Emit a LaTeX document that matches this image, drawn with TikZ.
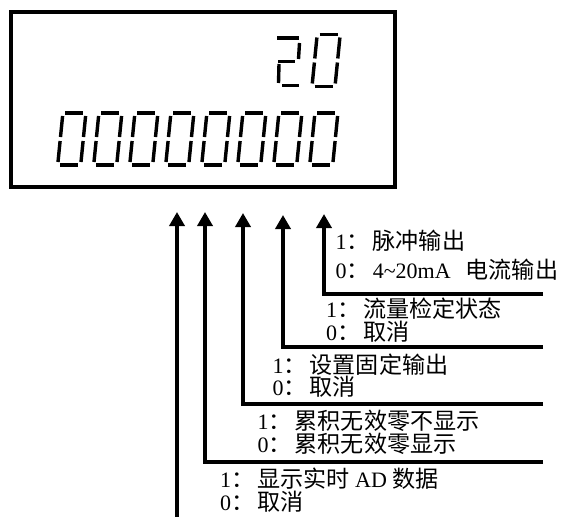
\documentclass[tikz,border=0pt]{standalone}
\usepackage{fontspec}
\setmainfont{Liberation Serif}
\newfontfamily\cjk[Scale=1.05]{Noto Sans CJK SC}
\usetikzlibrary{arrows.meta}
\tikzset{
  seg/.style={line width=3.4pt, line cap=butt},
  conn/.style={line width=4pt, line join=miter, -{Triangle[length=14pt,width=15pt]}},
  lbl/.style={inner sep=0pt, anchor=base west, font=\fontsize{22}{25}\selectfont},
}
\newcommand\fwcolon{{\cjk ：}\hspace{3pt}}
\newcommand\zerodigit{%
  \draw[seg] (2.5,0)--(20.5,0);
  \draw[seg] (2.5,52)--(20.5,52);
  \draw[seg] (0,3)--(0,24);
  \draw[seg] (0,28)--(0,49);
  \draw[seg] (23,3)--(23,24);
  \draw[seg] (23,28)--(23,49);}
\begin{document}
\begin{tikzpicture}[x=1pt,y=-1pt]
\useasboundingbox (0,0) rectangle (561,516);
% display
\node[draw, line width=4pt, minimum width=384.5pt, minimum height=175pt,
      inner sep=0pt, outer sep=0pt, anchor=north west] (display) at (10.5,12) {};
% bottom row of digits
\foreach \i in {0,...,7}{
  \begin{scope}[shift={({57.7pt+36pt*\i},-165pt)}, xslant=0.1, y=1pt]
    \zerodigit
  \end{scope}
}
% top row "20"
\draw[seg] (277,38)--(299,38);
\draw[seg] (299.5,43)--(298.5,59);
\draw[seg] (278,61.5)--(295,61.5);
\draw[seg] (279,64)--(278.5,83);
\draw[seg] (282,85.5)--(299,85.5);
\begin{scope}[shift={(312pt,-86.5pt)}, xslant=0.1, y=1pt]
  \zerodigit
\end{scope}
% connector coordinates
\coordinate (t1) at (177,212);
\coordinate (t2) at (205,212);
\coordinate (t3) at (243,213);
\coordinate (t4) at (283,215);
\coordinate (t5) at (324,214);
\coordinate (b1) at (177,518);
\coordinate (e2) at (543,462);
\coordinate (e3) at (543,404);
\coordinate (e4) at (543,346.5);
\coordinate (e5) at (543,294);
\draw[conn] (e5) -| (t5);
\draw[conn] (e4) -| (t4);
\draw[conn] (e3) -| (t3);
\draw[conn] (e2) -| (t2);
\draw[conn] (b1) -- (t1);
% labels
\node[lbl] (l5a) at (335.5,249) {1\fwcolon{\cjk 脉冲输出}};
\node[lbl] (l5b) at (335.5,278) {0\fwcolon 4\textasciitilde 20mA\hspace{15pt}{\cjk 电流输出}};
\node[lbl] (l4a) at (326,317) {1\fwcolon{\cjk 流量检定状态}};
\node[lbl] (l4b) at (326,340) {0\fwcolon{\cjk 取消}};
\node[lbl] (l3a) at (272.5,373) {1\fwcolon{\cjk 设置固定输出}};
\node[lbl] (l3b) at (272.5,395) {0\fwcolon{\cjk 取消}};
\node[lbl] (l2a) at (257.5,429) {1\fwcolon{\cjk 累积无效零不显示}};
\node[lbl] (l2b) at (257.5,452) {0\fwcolon{\cjk 累积无效零显示}};
\node[lbl] (l1a) at (220,487) {1\fwcolon{\cjk 显示实时} AD {\cjk 数据}};
\node[lbl] (l1b) at (220,510) {0\fwcolon{\cjk 取消}};
\end{tikzpicture}
\end{document}
